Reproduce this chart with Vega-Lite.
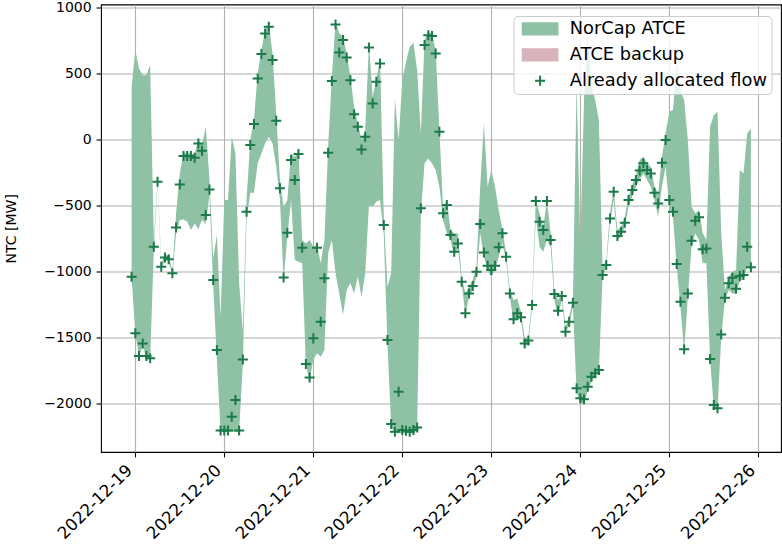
{
 "$schema": "https://vega.github.io/schema/vega-lite/v6.json",
 "width": 680,
 "height": 447.5,
 "autosize": {"type": "none"},
 "padding": {"left": 101, "top": 4.5, "right": 1, "bottom": 97},
 "background": "white",
 "config": {
  "font": "DejaVu Sans",
  "view": {"stroke": "black", "strokeWidth": 1.1},
  "axis": {"grid": true, "gridColor": "#b0b0b0", "gridWidth": 1.1, "gridOpacity": 1, "domain": false, "tickColor": "black", "tickSize": 4.9, "tickWidth": 1.1, "labelFont": "DejaVu Sans", "labelFontSize": 14, "labelColor": "black", "titleFont": "DejaVu Sans", "titleFontSize": 14, "titleFontWeight": "normal", "titleColor": "black", "zindex": 1},
  "legend": {"title": null, "orient": "none", "legendX": 412.5, "legendY": 11.5, "direction": "vertical",
        "fillColor": "rgba(255,255,255,0.8)", "strokeColor": "#cccccc", "cornerRadius": 4, "padding": 4,
        "labelFont": "DejaVu Sans", "labelFontSize": 17.8, "labelColor": "black", "labelLimit": 400,
        "symbolSize": 178, "symbolOffset": 13.7, "labelOffset": 20.8, "rowPadding": 6.9,
        "symbolStrokeWidth": 0, "symbolOpacity": 1}
 },
 "data": {"values": [
  {"t":"2022-12-18T23:00:00Z","upper":398,"lower":-1040,"flow":-1038},
  {"t":"2022-12-19T00:00:00Z","upper":675,"lower":-1470,"flow":-1466},
  {"t":"2022-12-19T01:00:00Z","upper":537,"lower":-1640,"flow":-1637},
  {"t":"2022-12-19T02:00:00Z","upper":486,"lower":-1560,"flow":-1542},
  {"t":"2022-12-19T03:00:00Z","upper":486,"lower":-1650,"flow":-1637},
  {"t":"2022-12-19T04:00:00Z","upper":562,"lower":-1670,"flow":-1655},
  {"t":"2022-12-19T05:00:00Z","upper":-760,"lower":-830,"flow":-811},
  {"t":"2022-12-19T06:00:00Z","upper":-300,"lower":-340,"flow":-320},
  {"t":"2022-12-19T07:00:00Z","upper":-940,"lower":-980,"flow":-962},
  {"t":"2022-12-19T08:00:00Z","upper":-870,"lower":-910,"flow":-892},
  {"t":"2022-12-19T09:00:00Z","upper":-880,"lower":-920,"flow":-906},
  {"t":"2022-12-19T10:00:00Z","upper":-990,"lower":-1030,"flow":-1012},
  {"t":"2022-12-19T11:00:00Z","upper":-560,"lower":-710,"flow":-665},
  {"t":"2022-12-19T12:00:00Z","upper":-257,"lower":-610,"flow":-340},
  {"t":"2022-12-19T13:00:00Z","upper":-100,"lower":-605,"flow":-126},
  {"t":"2022-12-19T14:00:00Z","upper":-100,"lower":-622,"flow":-126},
  {"t":"2022-12-19T15:00:00Z","upper":-110,"lower":-685,"flow":-126},
  {"t":"2022-12-19T16:00:00Z","upper":-110,"lower":-635,"flow":-139},
  {"t":"2022-12-19T17:00:00Z","upper":-5,"lower":-680,"flow":-30},
  {"t":"2022-12-19T18:00:00Z","upper":-40,"lower":-610,"flow":-86},
  {"t":"2022-12-19T19:00:00Z","upper":96,"lower":-640,"flow":-572},
  {"t":"2022-12-19T20:00:00Z","upper":-300,"lower":-420,"flow":-378},
  {"t":"2022-12-19T21:00:00Z","upper":-900,"lower":-1100,"flow":-1063},
  {"t":"2022-12-19T22:00:00Z","upper":-723,"lower":-1667,"flow":-1592},
  {"t":"2022-12-19T23:00:00Z","upper":-1340,"lower":-2210,"flow":-2200},
  {"t":"2022-12-20T00:00:00Z","upper":-458,"lower":-2210,"flow":-2200},
  {"t":"2022-12-20T01:00:00Z","upper":-458,"lower":-2210,"flow":-2200},
  {"t":"2022-12-20T02:00:00Z","upper":20,"lower":-2210,"flow":-2096},
  {"t":"2022-12-20T03:00:00Z","upper":-106,"lower":-2210,"flow":-1970},
  {"t":"2022-12-20T04:00:00Z","upper":-1088,"lower":-2210,"flow":-2200},
  {"t":"2022-12-20T05:00:00Z","upper":-1450,"lower":-1700,"flow":-1663},
  {"t":"2022-12-20T06:00:00Z","upper":-458,"lower":-610,"flow":-547},
  {"t":"2022-12-20T07:00:00Z","upper":-5,"lower":-403,"flow":-43},
  {"t":"2022-12-20T08:00:00Z","upper":146,"lower":-403,"flow":116},
  {"t":"2022-12-20T09:00:00Z","upper":499,"lower":-181,"flow":461},
  {"t":"2022-12-20T10:00:00Z","upper":675,"lower":-106,"flow":645},
  {"t":"2022-12-20T11:00:00Z","upper":826,"lower":-30,"flow":801},
  {"t":"2022-12-20T12:00:00Z","upper":877,"lower":20,"flow":851},
  {"t":"2022-12-20T13:00:00Z","upper":650,"lower":-30,"flow":600},
  {"t":"2022-12-20T14:00:00Z","upper":196,"lower":-207,"flow":141},
  {"t":"2022-12-20T15:00:00Z","upper":-307,"lower":-458,"flow":-370},
  {"t":"2022-12-20T16:00:00Z","upper":-509,"lower":-1063,"flow":-1043},
  {"t":"2022-12-20T17:00:00Z","upper":-458,"lower":-730,"flow":-705},
  {"t":"2022-12-20T18:00:00Z","upper":-106,"lower":-458,"flow":-156},
  {"t":"2022-12-20T19:00:00Z","upper":-131,"lower":-912,"flow":-307},
  {"t":"2022-12-20T20:00:00Z","upper":-81,"lower":-924,"flow":-111},
  {"t":"2022-12-20T21:00:00Z","upper":-761,"lower":-937,"flow":-819},
  {"t":"2022-12-20T22:00:00Z","upper":-786,"lower":-1705,"flow":-1698},
  {"t":"2022-12-20T23:00:00Z","upper":-761,"lower":-1819,"flow":-1799},
  {"t":"2022-12-21T00:00:00Z","upper":-811,"lower":-1668,"flow":-1504},
  {"t":"2022-12-21T01:00:00Z","upper":-800,"lower":-1617,"flow":-819},
  {"t":"2022-12-21T02:00:00Z","upper":-937,"lower":-1642,"flow":-1378},
  {"t":"2022-12-21T03:00:00Z","upper":-761,"lower":-1592,"flow":-1050},
  {"t":"2022-12-21T04:00:00Z","upper":-55,"lower":-861,"flow":-101},
  {"t":"2022-12-21T05:00:00Z","upper":474,"lower":-761,"flow":441},
  {"t":"2022-12-21T06:00:00Z","upper":889,"lower":-1013,"flow":869},
  {"t":"2022-12-21T07:00:00Z","upper":801,"lower":-1164,"flow":657},
  {"t":"2022-12-21T08:00:00Z","upper":776,"lower":-1328,"flow":751},
  {"t":"2022-12-21T09:00:00Z","upper":650,"lower":-1139,"flow":620},
  {"t":"2022-12-21T10:00:00Z","upper":474,"lower":-1088,"flow":448},
  {"t":"2022-12-21T11:00:00Z","upper":247,"lower":-1164,"flow":191},
  {"t":"2022-12-21T12:00:00Z","upper":121,"lower":-1038,"flow":96},
  {"t":"2022-12-21T13:00:00Z","upper":-5,"lower":-1189,"flow":-76},
  {"t":"2022-12-21T14:00:00Z","upper":71,"lower":-1013,"flow":20},
  {"t":"2022-12-21T15:00:00Z","upper":725,"lower":-500,"flow":695},
  {"t":"2022-12-21T16:00:00Z","upper":322,"lower":-509,"flow":272},
  {"t":"2022-12-21T17:00:00Z","upper":461,"lower":-471,"flow":436},
  {"t":"2022-12-21T18:00:00Z","upper":600,"lower":-458,"flow":574},
  {"t":"2022-12-21T19:00:00Z","upper":-580,"lower":-720,"flow":-647},
  {"t":"2022-12-21T20:00:00Z","upper":-1113,"lower":-1542,"flow":-1516},
  {"t":"2022-12-21T21:00:00Z","upper":-1013,"lower":-2171,"flow":-2151},
  {"t":"2022-12-21T22:00:00Z","upper":310,"lower":-2222,"flow":-2210},
  {"t":"2022-12-21T23:00:00Z","upper":-5,"lower":-2222,"flow":-1907},
  {"t":"2022-12-22T00:00:00Z","upper":448,"lower":-2222,"flow":-2197},
  {"t":"2022-12-22T01:00:00Z","upper":587,"lower":-2222,"flow":-2202},
  {"t":"2022-12-22T02:00:00Z","upper":700,"lower":-2222,"flow":-2209},
  {"t":"2022-12-22T03:00:00Z","upper":730,"lower":-2222,"flow":-2197},
  {"t":"2022-12-22T04:00:00Z","upper":524,"lower":-2197,"flow":-2177},
  {"t":"2022-12-22T05:00:00Z","upper":45,"lower":-559,"flow":-521},
  {"t":"2022-12-22T06:00:00Z","upper":751,"lower":-181,"flow":713},
  {"t":"2022-12-22T07:00:00Z","upper":814,"lower":-144,"flow":788},
  {"t":"2022-12-22T08:00:00Z","upper":801,"lower":-181,"flow":781},
  {"t":"2022-12-22T09:00:00Z","upper":675,"lower":-232,"flow":650},
  {"t":"2022-12-22T10:00:00Z","upper":71,"lower":-358,"flow":58},
  {"t":"2022-12-22T11:00:00Z","upper":-521,"lower":-610,"flow":-559},
  {"t":"2022-12-22T12:00:00Z","upper":-458,"lower":-710,"flow":-496},
  {"t":"2022-12-22T13:00:00Z","upper":-685,"lower":-761,"flow":-723},
  {"t":"2022-12-22T14:00:00Z","upper":-710,"lower":-874,"flow":-849},
  {"t":"2022-12-22T15:00:00Z","upper":-710,"lower":-824,"flow":-786},
  {"t":"2022-12-22T16:00:00Z","upper":-1038,"lower":-1088,"flow":-1076},
  {"t":"2022-12-22T17:00:00Z","upper":-1164,"lower":-1328,"flow":-1315},
  {"t":"2022-12-22T18:00:00Z","upper":-1113,"lower":-1189,"flow":-1164},
  {"t":"2022-12-22T19:00:00Z","upper":-1063,"lower":-1139,"flow":-1108},
  {"t":"2022-12-22T20:00:00Z","upper":-962,"lower":-1038,"flow":-1000},
  {"t":"2022-12-22T21:00:00Z","upper":-358,"lower":-710,"flow":-640},
  {"t":"2022-12-22T22:00:00Z","upper":121,"lower":-887,"flow":-854},
  {"t":"2022-12-22T23:00:00Z","upper":-358,"lower":-987,"flow":-955},
  {"t":"2022-12-23T00:00:00Z","upper":-232,"lower":-1038,"flow":-987},
  {"t":"2022-12-23T01:00:00Z","upper":-358,"lower":-987,"flow":-955},
  {"t":"2022-12-23T02:00:00Z","upper":-534,"lower":-887,"flow":-816},
  {"t":"2022-12-23T03:00:00Z","upper":-685,"lower":-786,"flow":-710},
  {"t":"2022-12-23T04:00:00Z","upper":-861,"lower":-912,"flow":-887},
  {"t":"2022-12-23T05:00:00Z","upper":-1139,"lower":-1189,"flow":-1164},
  {"t":"2022-12-23T06:00:00Z","upper":-1214,"lower":-1378,"flow":-1360},
  {"t":"2022-12-23T07:00:00Z","upper":-1202,"lower":-1340,"flow":-1315},
  {"t":"2022-12-23T08:00:00Z","upper":-1302,"lower":-1365,"flow":-1345},
  {"t":"2022-12-23T09:00:00Z","upper":-1504,"lower":-1567,"flow":-1542},
  {"t":"2022-12-23T10:00:00Z","upper":-1491,"lower":-1542,"flow":-1521},
  {"t":"2022-12-23T11:00:00Z","upper":-1214,"lower":-1265,"flow":-1252},
  {"t":"2022-12-23T12:00:00Z","upper":-458,"lower":-584,"flow":-466},
  {"t":"2022-12-23T13:00:00Z","upper":-559,"lower":-811,"flow":-622},
  {"t":"2022-12-23T14:00:00Z","upper":-660,"lower":-849,"flow":-685},
  {"t":"2022-12-23T15:00:00Z","upper":-458,"lower":-761,"flow":-466},
  {"t":"2022-12-23T16:00:00Z","upper":-710,"lower":-811,"flow":-761},
  {"t":"2022-12-23T17:00:00Z","upper":-1139,"lower":-1214,"flow":-1169},
  {"t":"2022-12-23T18:00:00Z","upper":-1214,"lower":-1340,"flow":-1295},
  {"t":"2022-12-23T19:00:00Z","upper":-1164,"lower":-1214,"flow":-1184},
  {"t":"2022-12-23T20:00:00Z","upper":-1416,"lower":-1466,"flow":-1453},
  {"t":"2022-12-23T21:00:00Z","upper":-1340,"lower":-1403,"flow":-1378},
  {"t":"2022-12-23T22:00:00Z","upper":-1214,"lower":-1265,"flow":-1234},
  {"t":"2022-12-23T23:00:00Z","upper":423,"lower":-1907,"flow":-1882},
  {"t":"2022-12-24T00:00:00Z","upper":-800,"lower":-1995,"flow":-1957},
  {"t":"2022-12-24T01:00:00Z","upper":300,"lower":-1995,"flow":-1965},
  {"t":"2022-12-24T02:00:00Z","upper":800,"lower":-1900,"flow":-1869},
  {"t":"2022-12-24T03:00:00Z","upper":400,"lower":-1830,"flow":-1794},
  {"t":"2022-12-24T04:00:00Z","upper":300,"lower":-1790,"flow":-1768},
  {"t":"2022-12-24T05:00:00Z","upper":146,"lower":-1760,"flow":-1743},
  {"t":"2022-12-24T06:00:00Z","upper":-962,"lower":-1038,"flow":-1025},
  {"t":"2022-12-24T07:00:00Z","upper":-912,"lower":-962,"flow":-950},
  {"t":"2022-12-24T08:00:00Z","upper":-559,"lower":-635,"flow":-597},
  {"t":"2022-12-24T09:00:00Z","upper":-383,"lower":-458,"flow":-395},
  {"t":"2022-12-24T10:00:00Z","upper":-685,"lower":-761,"flow":-730},
  {"t":"2022-12-24T11:00:00Z","upper":-660,"lower":-736,"flow":-698},
  {"t":"2022-12-24T12:00:00Z","upper":-584,"lower":-660,"flow":-630},
  {"t":"2022-12-24T13:00:00Z","upper":-433,"lower":-509,"flow":-458},
  {"t":"2022-12-24T14:00:00Z","upper":-345,"lower":-433,"flow":-383},
  {"t":"2022-12-24T15:00:00Z","upper":-270,"lower":-358,"flow":-307},
  {"t":"2022-12-24T16:00:00Z","upper":-156,"lower":-307,"flow":-235},
  {"t":"2022-12-24T17:00:00Z","upper":-131,"lower":-257,"flow":-181},
  {"t":"2022-12-24T18:00:00Z","upper":-181,"lower":-307,"flow":-232},
  {"t":"2022-12-24T19:00:00Z","upper":-207,"lower":-358,"flow":-257},
  {"t":"2022-12-24T20:00:00Z","upper":-358,"lower":-458,"flow":-403},
  {"t":"2022-12-24T21:00:00Z","upper":-408,"lower":-584,"flow":-484},
  {"t":"2022-12-24T22:00:00Z","upper":-131,"lower":-358,"flow":-176},
  {"t":"2022-12-24T23:00:00Z","upper":45,"lower":-207,"flow":-5},
  {"t":"2022-12-25T00:00:00Z","upper":209,"lower":-509,"flow":-458},
  {"t":"2022-12-25T01:00:00Z","upper":222,"lower":-584,"flow":-547},
  {"t":"2022-12-25T02:00:00Z","upper":587,"lower":-962,"flow":-942},
  {"t":"2022-12-25T03:00:00Z","upper":373,"lower":-1265,"flow":-1227},
  {"t":"2022-12-25T04:00:00Z","upper":297,"lower":-1605,"flow":-1587},
  {"t":"2022-12-25T05:00:00Z","upper":-5,"lower":-1189,"flow":-1164},
  {"t":"2022-12-25T06:00:00Z","upper":-509,"lower":-811,"flow":-766},
  {"t":"2022-12-25T07:00:00Z","upper":-559,"lower":-710,"flow":-615},
  {"t":"2022-12-25T08:00:00Z","upper":-534,"lower":-761,"flow":-589},
  {"t":"2022-12-25T09:00:00Z","upper":-710,"lower":-937,"flow":-831},
  {"t":"2022-12-25T10:00:00Z","upper":-761,"lower":-937,"flow":-824},
  {"t":"2022-12-25T11:00:00Z","upper":96,"lower":-1668,"flow":-1660},
  {"t":"2022-12-25T12:00:00Z","upper":184,"lower":-2033,"flow":-2008},
  {"t":"2022-12-25T13:00:00Z","upper":209,"lower":-2045,"flow":-2033},
  {"t":"2022-12-25T14:00:00Z","upper":-710,"lower":-1491,"flow":-1474},
  {"t":"2022-12-25T15:00:00Z","upper":-1139,"lower":-1214,"flow":-1197},
  {"t":"2022-12-25T16:00:00Z","upper":-1038,"lower":-1139,"flow":-1088},
  {"t":"2022-12-25T17:00:00Z","upper":-1000,"lower":-1164,"flow":-1045},
  {"t":"2022-12-25T18:00:00Z","upper":-987,"lower":-1164,"flow":-1129},
  {"t":"2022-12-25T19:00:00Z","upper":-232,"lower":-1076,"flow":-1033},
  {"t":"2022-12-25T20:00:00Z","upper":-257,"lower":-1050,"flow":-1025},
  {"t":"2022-12-25T21:00:00Z","upper":45,"lower":-962,"flow":-811},
  {"t":"2022-12-25T22:00:00Z","upper":83,"lower":-987,"flow":-967}
 ]},
 "layer": [
  {
   "mark": {"type": "area", "opacity": 1, "interpolate": "linear"},
   "encoding": {
    "x": {"field": "t", "type": "temporal",
      "scale": {"type": "utc", "domain": [{"year": 2022, "month": 12, "date": 18, "hours": 14, "minutes": 45, "utc": true}, {"year": 2022, "month": 12, "date": 26, "hours": 6, "minutes": 7, "utc": true}]},
      "axis": {"title": null, "format": "%Y-%m-%d", "labelAngle": -45, "labelAlign": "right", "labelBaseline": "top", "labelFontSize": 16.7, "labelPadding": 4.9, "labelOffset": -11.8,
        "values": [{"year": 2022, "month": 12, "date": 19, "utc": true}, {"year": 2022, "month": 12, "date": 20, "utc": true}, {"year": 2022, "month": 12, "date": 21, "utc": true}, {"year": 2022, "month": 12, "date": 22, "utc": true}, {"year": 2022, "month": 12, "date": 23, "utc": true}, {"year": 2022, "month": 12, "date": 24, "utc": true}, {"year": 2022, "month": 12, "date": 25, "utc": true}, {"year": 2022, "month": 12, "date": 26, "utc": true}]}},
    "y": {"field": "upper", "type": "quantitative",
      "scale": {"domain": [-2363, 1020], "nice": false, "zero": false},
      "axis": {"title": "NTC [MW]", "values": [-2000, -1500, -1000, -500, 0, 500, 1000], "labelExpr": "replace(format(datum.value, 'd'), '-', '\u2212')", "labelPadding": 4.9, "titlePadding": 25}},
    "y2": {"field": "lower"},
    "color": {"datum": "NorCap ATCE",
      "scale": {"domain": ["NorCap ATCE", "ATCE backup", "Already allocated flow"], "range": ["#8fc1a5", "#d8b3bb", "#1a7a48"]}}
   }
  },
  {
   "mark": {"type": "point", "filled": true, "strokeWidth": 0, "size": 178, "opacity": 1},
   "encoding": {
    "x": {"field": "t", "type": "temporal"},
    "y": {"field": "flow", "type": "quantitative"},
    "color": {"datum": "Already allocated flow"},
    "shape": {"datum": "Already allocated flow",
      "scale": {"domain": ["NorCap ATCE", "ATCE backup", "Already allocated flow"], "range": ["M-2.75,-1H2.75V1H-2.75Z", "M-2.75,-1H2.75V1H-2.75Z", "M-0.75,-0.15H-0.15V-0.75H0.15V-0.15H0.75V0.15H0.15V0.75H-0.15V0.15H-0.75Z"]}}
   }
  }
 ]
}
